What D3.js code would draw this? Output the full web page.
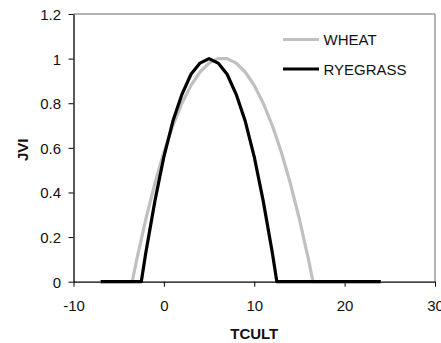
<!DOCTYPE html>
<html>
<head>
<meta charset="utf-8">
<script src="https://cdn.jsdelivr.net/npm/d3@7"></script>
<style>
  html, body { margin: 0; padding: 0; background: #fff; }
  svg { display: block; font-family: "Liberation Sans", Arial, sans-serif; }
</style>
</head>
<body>
<svg id="chart" width="441" height="343"></svg>
<script>
// ---- data ----
const wheatX = [-7, -6, -5, -4, -3.5, -3, -2, -1, 0, 1, 2, 3, 4, 5, 6, 7, 8, 9, 10, 11, 12, 13, 14, 15, 16, 16.5, 17, 18, 19, 20, 21, 22, 23, 24];
const wheatY = [0, 0, 0, 0, 0, 0.10, 0.28, 0.44, 0.58, 0.70, 0.80, 0.88, 0.94, 0.98, 1.0, 1.0, 0.98, 0.94, 0.88, 0.80, 0.70, 0.58, 0.44, 0.28, 0.10, 0, 0, 0, 0, 0, 0, 0, 0, 0];
const ryeX = [-7, -6, -5, -4, -3, -2.5, -2, -1, 0, 1, 2, 3, 4, 5, 6, 7, 8, 9, 10, 11, 12, 12.5, 13, 14, 15, 16, 17, 18, 19, 20, 21, 22, 23, 24];
const ryeY = [0, 0, 0, 0, 0, 0, 0.13, 0.36, 0.56, 0.72, 0.84, 0.93, 0.98, 1.0, 0.98, 0.93, 0.84, 0.72, 0.56, 0.36, 0.13, 0, 0, 0, 0, 0, 0, 0, 0, 0, 0, 0, 0, 0];
const seriesNames = ["WHEAT", "RYEGRASS"];
const seriesColors = ["#c0c0c0", "#000000"];
const xTicks = [-10, 0, 10, 20, 30];
const xTickLabels = ["-10", "0", "10", "20", "30"];
const yTicks = [0, 0.2, 0.4, 0.6, 0.8, 1, 1.2];
const yTickLabels = ["0", "0.2", "0.4", "0.6", "0.8", "1", "1.2"];
const xTitle = "TCULT";
const yTitle = "JVI";

const series = [
  { name: seriesNames[0], color: seriesColors[0], pts: wheatX.map((x, i) => [x, wheatY[i]]) },
  { name: seriesNames[1], color: seriesColors[1], pts: ryeX.map((x, i) => [x, ryeY[i]]) }
];

const svg = d3.select("#chart");
const x = d3.scaleLinear().domain([-10, 30]).range([73.5, 435]);
const y = d3.scaleLinear().domain([0, 1.2]).range([281.7, 14]);
const textColor = "#111";

// frame top/right
svg.append("line").attr("x1", x(-10)).attr("x2", x(30)).attr("y1", y(1.2)).attr("y2", y(1.2))
  .attr("stroke", "#9a9a9a").attr("stroke-width", 1.5);
svg.append("line").attr("x1", x(30)).attr("x2", x(30)).attr("y1", y(1.2)).attr("y2", y(0))
  .attr("stroke", "#9a9a9a").attr("stroke-width", 1.5);

// axes
const xAxis = d3.axisBottom(x).tickValues(xTicks).tickFormat((d, i) => xTickLabels[i])
  .tickSize(5).tickSizeOuter(0).tickPadding(13.5);
const yAxis = d3.axisLeft(y).tickValues(yTicks).tickFormat((d, i) => yTickLabels[i])
  .tickSize(5).tickSizeOuter(0).tickPadding(7.5);

const gx = svg.append("g").attr("transform", `translate(0,${y(0)})`).call(xAxis);
const gy = svg.append("g").attr("transform", `translate(${x(-10)},0)`).call(yAxis);
[gx, gy].forEach(g => {
  g.select(".domain").attr("stroke", "#000").attr("stroke-width", 1.3);
  g.selectAll(".tick line").attr("stroke", "#000").attr("stroke-width", 1);
  g.selectAll(".tick text").attr("fill", textColor)
    .style("font-family", '"Liberation Sans", Arial, sans-serif').style("font-size", "15px");
});
gy.selectAll(".tick text").attr("dy", "0.36em");

// lines
const line = d3.line().x(d => x(d[0])).y(d => y(d[1]));
series.forEach(s => {
  svg.append("path").datum(s.pts).attr("d", line)
    .attr("fill", "none").attr("stroke", s.color).attr("stroke-width", 3.2)
    .attr("stroke-linejoin", "round");
});

// titles
svg.append("text").attr("x", (x(-10) + x(30)) / 2).attr("y", 338.5)
  .attr("text-anchor", "middle").attr("font-weight", "bold").attr("font-size", 15)
  .attr("fill", textColor).text(xTitle);
svg.append("text").attr("transform", `translate(27.5,${(y(0) + y(1.2)) / 2 + 2}) rotate(-90)`)
  .attr("text-anchor", "middle").attr("font-weight", "bold").attr("font-size", 15)
  .attr("fill", textColor).text(yTitle);

// legend
const legendY = [39.5, 69];
series.forEach((s, i) => {
  svg.append("line").attr("x1", 283).attr("x2", 319).attr("y1", legendY[i]).attr("y2", legendY[i])
    .attr("stroke", s.color).attr("stroke-width", 3.2);
  svg.append("text").attr("x", 323.5).attr("y", legendY[i] + 5.5)
    .attr("font-size", 15).attr("fill", textColor).text(s.name);
});
</script>
</body>
</html>
